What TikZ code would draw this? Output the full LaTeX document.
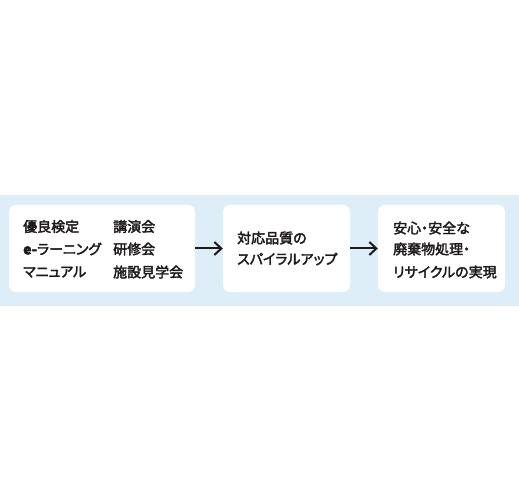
\documentclass[tikz,border=0pt]{standalone}
\usepackage{fontspec}
\setmainfont[RawFeature=+palt,FakeBold=2.5]{Noto Sans CJK JP}
\usetikzlibrary{arrows.meta}
\definecolor{bandblue}{RGB}{221,238,249}
\definecolor{inkgray}{RGB}{30,25,25}
\begin{document}
\begin{tikzpicture}[x=1bp,y=1bp,>={Straight Barb[length=7bp,width=13bp]},line join=bevel,
  box/.style={fill=white,draw=none,rounded corners=7bp,minimum height=87bp,inner sep=0pt},
  lbl/.style={anchor=west,inner sep=0pt,text=inkgray,font=\fontsize{14bp}{16bp}\selectfont},
  ]
\useasboundingbox (0bp,0bp) rectangle (519bp,502bp);
%%
\fill [bandblue] (0bp,196bp) rectangle (519bp,307bp);
\node (box_0) at (102.0bp,253.5bp) [box,minimum width=186bp] {};
  \node (box_1) at (286.5bp,253.5bp) [box,minimum width=127bp] {};
  \node (box_2) at (441.5bp,253.5bp) [box,minimum width=127bp] {};
%
\node (txt_0) at (23bp,275.5bp) [lbl] {優良検定};
  \node (txt_1) at (23bp,253bp) [lbl] {{\bfseries e-}ラーニング};
  \node (txt_2) at (23bp,230bp) [lbl] {マニュアル};
  \node (txt_3) at (113bp,275.5bp) [lbl] {講演会};
  \node (txt_4) at (113bp,253bp) [lbl] {研修会};
  \node (txt_5) at (113bp,230bp) [lbl] {施設見学会};
  \node (txt_6) at (237bp,264bp) [lbl] {対応品質の};
  \node (txt_7) at (237bp,243bp) [lbl] {スパイラルアップ};
  \node (txt_8) at (393bp,274bp) [lbl] {安心・安全な};
  \node (txt_9) at (393bp,253bp) [lbl] {廃棄物処理・};
  \node (txt_10) at (393bp,230bp) [lbl] {リサイクルの実現};
%
\draw [inkgray,line width=2bp,->] (box_0) -- (box_1);
  \draw [inkgray,line width=2bp,->] (box_1) -- (box_2);
%
\end{tikzpicture}
\end{document}
